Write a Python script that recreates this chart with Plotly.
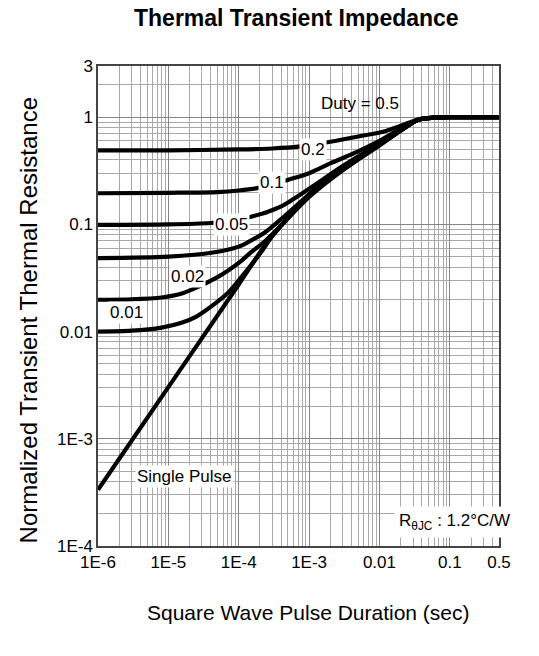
import math
import plotly.graph_objects as go

# ---- data ----
t_d05 = [1e-6, 1e-5, 1e-4, 3e-4, 7e-4, 2e-3, 5e-3, 1.2e-2, 2.2e-2, 3.6e-2, 6e-2, 0.1, 0.5]
z_d05 = [0.49, 0.49, 0.50, 0.51, 0.53, 0.59, 0.66, 0.74, 0.85, 0.95, 0.99, 1.0, 1.0]

t_d02 = [1e-6, 1e-5, 5e-5, 1e-4, 2e-4, 5e-4, 1e-3, 2e-3, 5e-3, 1e-2, 2.2e-2, 3.6e-2, 6e-2, 0.1, 0.5]
z_d02 = [0.195, 0.197, 0.20, 0.207, 0.22, 0.26, 0.30, 0.37, 0.48, 0.60, 0.81, 0.95, 0.99, 1.0, 1.0]

t_d01 = [1e-6, 1e-5, 4e-5, 1e-4, 1.5e-4, 2.5e-4, 4e-4, 1e-3, 3e-3, 1e-2, 2.2e-2, 3.6e-2, 6e-2, 0.1, 0.5]
z_d01 = [0.099, 0.10, 0.103, 0.110, 0.118, 0.130, 0.147, 0.215, 0.35, 0.57, 0.80, 0.95, 0.99, 1.0, 1.0]

t_d005 = [1e-6, 1e-5, 4.3e-5, 1e-4, 1.4e-4, 2.4e-4, 4e-4, 7e-4, 1.1e-3, 3.4e-3, 1e-2, 2.2e-2, 3.6e-2, 6e-2, 0.1, 0.5]
z_d005 = [0.0485, 0.050, 0.0546, 0.062, 0.069, 0.085, 0.112, 0.155, 0.20, 0.34, 0.56, 0.79, 0.95, 0.99, 1.0, 1.0]

t_d002 = [1e-6, 3e-6, 8e-6, 1.6e-5, 2.6e-5, 4.5e-5, 7e-5, 1.1e-4, 1.5e-4, 2.2e-4, 3e-4, 4.5e-4, 1e-3, 3e-3, 1e-2, 2.2e-2, 3.6e-2, 6e-2, 0.1, 0.5]
z_d002 = [0.0198, 0.0200, 0.0208, 0.0228, 0.026, 0.031, 0.037, 0.046, 0.055, 0.067, 0.081, 0.106, 0.19, 0.33, 0.555, 0.785, 0.95, 0.99, 1.0, 1.0]

t_d001 = [1e-6, 3e-6, 8e-6, 1.5e-5, 2.5e-5, 5e-5, 7.3e-5, 1e-4, 1.6e-4, 2.2e-4, 3e-4, 1e-3, 3e-3, 1e-2, 2.2e-2, 3.6e-2, 6e-2, 0.1, 0.5]
z_d001 = [0.0100, 0.0102, 0.0109, 0.0120, 0.0138, 0.019, 0.0235, 0.030, 0.044, 0.058, 0.078, 0.185, 0.325, 0.55, 0.78, 0.95, 0.99, 1.0, 1.0]

t_sp = [1e-6, 1e-5, 1e-4, 2.7e-4, 1e-3, 3e-3, 1e-2, 2.2e-2, 3.6e-2, 6e-2, 0.1, 0.5]
z_sp = [3.35e-4, 3.03e-3, 0.0275, 0.0716, 0.18, 0.32, 0.545, 0.78, 0.95, 0.99, 1.0, 1.0]

series = [
    (t_d05, z_d05), (t_d02, z_d02), (t_d01, z_d01), (t_d005, z_d005),
    (t_d002, z_d002), (t_d001, z_d001), (t_sp, z_sp),
]

x_tickvals = [1e-6, 1e-5, 1e-4, 1e-3, 1e-2, 1e-1, 0.5]
x_ticktext = ["1E-6", "1E-5", "1E-4", "1E-3", "0.01", "0.1", "0.5"]
y_tickvals = [1e-4, 1e-3, 1e-2, 1e-1, 1, 3]
y_ticktext = ["1E-4", "1E-3", "0.01", "0.1", "1", "3"]

x_minor = [m * 10.0 ** e for e in range(-6, 0) for m in range(2, 10) if m * 10.0 ** e < 0.5]
y_minor = [m * 10.0 ** e for e in range(-4, 1) for m in range(2, 10) if m * 10.0 ** e < 3]

# curve labels: (text, t, z, white box)
labels = [
    ("Duty = 0.5", 5.3e-3, 1.33, False),
    ("0.2", 1.13e-3, 0.494, True),
    ("0.1", 2.96e-4, 0.244, True),
    ("0.05", 7.8e-5, 0.099, True),
    ("0.02", 1.84e-5, 0.0324, True),
    ("0.01", 2.58e-6, 0.0150, True),
    ("Single Pulse", 1.72e-5, 4.43e-4, True),
]

FONT = "Liberation Sans, Arial, sans-serif"

fig = go.Figure()
for t, z in series:
    fig.add_trace(go.Scatter(x=t, y=z, mode="lines",
                             line=dict(color="black", width=4.2, shape="spline", smoothing=0.8),
                             showlegend=False, hoverinfo="skip"))

for txt, tx, tz, box in labels:
    fig.add_annotation(x=math.log10(tx), y=math.log10(tz), xref="x", yref="y", text=txt,
                       showarrow=False, xanchor="center", yanchor="middle",
                       font=dict(family=FONT, size=17, color="black"),
                       bgcolor="white" if box else "rgba(0,0,0,0)", borderpad=1)

fig.add_annotation(x=math.log10(0.118), y=math.log10(1.69e-4), xref="x", yref="y",
                   text="R<sub>θJC</sub> : 1.2°C/W", showarrow=False,
                   xanchor="center", yanchor="middle",
                   font=dict(family=FONT, size=17, color="black"),
                   bgcolor="white", borderpad=4)

fig.add_annotation(x=0.496, y=1.1, xref="paper", yref="paper", xanchor="center", yanchor="middle",
                   text="<b>Thermal Transient Impedance</b>", showarrow=False,
                   font=dict(family=FONT, size=23, color="black"))
fig.add_annotation(x=0.526, y=-0.1375, xref="paper", yref="paper", xanchor="center", yanchor="middle",
                   text="Square Wave Pulse Duration (sec)", showarrow=False,
                   font=dict(family=FONT, size=21, color="black"))
fig.add_annotation(x=-0.1746, y=0.47, xref="paper", yref="paper", textangle=-90,
                   xanchor="center", yanchor="middle",
                   text="Normalized Transient Thermal Resistance", showarrow=False,
                   font=dict(family=FONT, size=24, color="black"))

fig.update_xaxes(type="log", range=[-6, math.log10(0.5)], tickvals=x_tickvals, ticktext=x_ticktext,
                 showgrid=True, gridcolor="#858585", gridwidth=1,
                 minor=dict(tickvals=x_minor, showgrid=True, gridcolor="#a8a8a8", gridwidth=1, ticks=""),
                 showline=True, linecolor="#444444", linewidth=1.5, mirror=True,
                 ticks="", tickfont=dict(family=FONT, size=17, color="black"), zeroline=False)
fig.update_yaxes(type="log", range=[-4, math.log10(3)], tickvals=y_tickvals, ticktext=y_ticktext,
                 showgrid=True, gridcolor="#858585", gridwidth=1,
                 minor=dict(tickvals=y_minor, showgrid=True, gridcolor="#a8a8a8", gridwidth=1, ticks=""),
                 showline=True, linecolor="#444444", linewidth=1.5, mirror=True,
                 ticks="", tickfont=dict(family=FONT, size=17, color="black"), zeroline=False)

fig.update_layout(width=539, height=656, margin=dict(l=98, r=40, t=66, b=110),
                  plot_bgcolor="white", paper_bgcolor="white")

# remove the default 8px page margin so the figure fills the window exactly
fig.write_html("out.html", config={"displayModeBar": False},
               post_script="document.body.style.margin='0';")
